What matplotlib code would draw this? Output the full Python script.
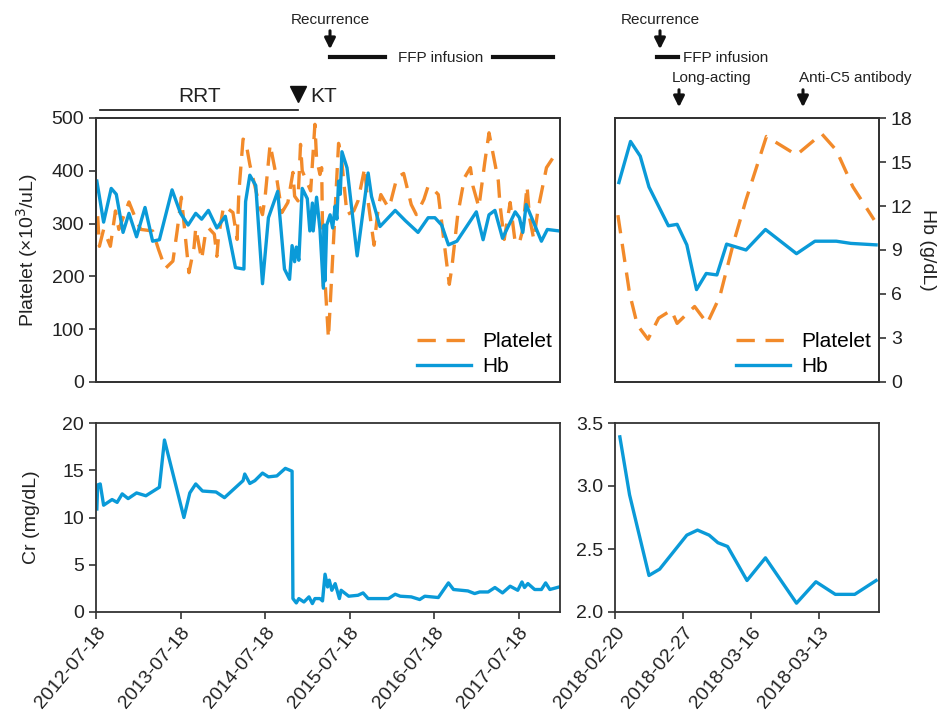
import matplotlib
matplotlib.use('Agg')
import matplotlib.pyplot as plt
from matplotlib.lines import Line2D

plt.rcParams['font.family'] = ['Liberation Sans', 'DejaVu Sans']

# ---------------- data ----------------
# Long-term panel: x = years since 2012-07-18
long_ticks = [0, 1, 2, 3, 4, 5]
long_tick_labels = ['2012-07-18', '2013-07-18', '2014-07-18',
                    '2015-07-18', '2016-07-18', '2017-07-18']

hb_long_x = [0.01, 0.09, 0.18, 0.24, 0.32, 0.39, 0.48, 0.58, 0.67, 0.75,
             0.90, 1.00, 1.09, 1.18, 1.25, 1.33, 1.43, 1.53, 1.65, 1.75,
             1.77, 1.82, 1.89, 1.97, 2.04, 2.15, 2.23, 2.29, 2.32, 2.35,
             2.37, 2.40, 2.44, 2.50, 2.53, 2.56, 2.57, 2.61, 2.65, 2.69,
             2.70, 2.71, 2.73, 2.77, 2.80, 2.83, 2.85, 2.87, 2.89, 2.91,
             2.97, 3.09, 3.22, 3.26, 3.36, 3.54, 3.66, 3.81, 3.93, 4.01,
             4.09, 4.17, 4.27, 4.50, 4.58, 4.65, 4.72, 4.81, 4.96, 5.01,
             5.05, 5.09, 5.27, 5.34, 5.48]
hb_long = [13.7, 10.9, 13.2, 12.8, 10.2, 11.5, 9.9, 11.9, 9.6, 9.7,
           13.1, 11.5, 10.7, 11.5, 11.1, 11.7, 10.5, 11.3, 7.8, 7.7,
           12.3, 14.1, 13.4, 6.7, 11.2, 13.0, 7.7, 7.0, 9.3, 8.2,
           9.2, 8.3, 13.2, 12.5, 10.3, 12.2, 10.3, 12.6, 10.4, 6.4,
           10.7, 6.9, 10.7, 11.4, 10.5, 12.0, 11.1, 13.7, 12.8, 15.7,
           14.6, 8.6, 14.25, 12.65, 10.6, 11.7, 11.0, 10.2, 11.2, 11.2,
           10.7, 9.35, 9.6, 11.6, 9.7, 11.4, 11.7, 9.8, 11.6, 11.2,
           10.2, 12.1, 9.6, 10.4, 10.3]

plt_long_x = [0.02, 0.04, 0.09, 0.17, 0.23, 0.27, 0.39, 0.48, 0.53, 0.67,
              0.74, 0.82, 0.91, 0.96, 1.01, 1.10, 1.16, 1.18, 1.25, 1.29,
              1.33, 1.40, 1.43, 1.45, 1.51, 1.57, 1.62, 1.67, 1.69, 1.74,
              1.77, 1.82, 1.94, 1.97, 2.00, 2.06, 2.14, 2.20, 2.27, 2.33,
              2.35, 2.39, 2.42, 2.44, 2.54, 2.59, 2.61, 2.65, 2.67, 2.69,
              2.71, 2.75, 2.79, 2.87, 2.90, 2.97, 3.05, 3.10, 3.18, 3.20,
              3.29, 3.34, 3.37, 3.46, 3.49, 3.56, 3.64, 3.73, 3.79, 3.88,
              3.93, 3.99, 4.05, 4.11, 4.18, 4.21, 4.28, 4.36, 4.43, 4.46,
              4.53, 4.60, 4.65, 4.68, 4.76, 4.78, 4.83, 4.90, 4.96, 5.01,
              5.05, 5.10, 5.13, 5.18, 5.23, 5.33, 5.45]
plt_long = [314, 257, 289, 257, 324, 289, 341, 305, 289, 286,
            251, 215, 229, 286, 350, 207, 255, 292, 232, 276,
            292, 280, 238, 276, 333, 327, 321, 270, 359, 460,
            457, 412, 330, 317, 349, 450, 384, 321, 340, 397,
            352, 343, 450, 400, 362, 488, 422, 393, 406, 181,
            191, 83, 204, 452, 431, 317, 324, 343, 406, 365,
            259, 330, 355, 330, 343, 387, 395, 336, 317, 346,
            371, 365, 355, 276, 185, 216, 317, 387, 406, 371,
            331, 416, 472, 447, 381, 336, 270, 340, 264, 264,
            289, 371, 311, 270, 327, 406, 435]

cr_long_x = [0.01, 0.02, 0.05, 0.09, 0.19, 0.25, 0.31, 0.38, 0.48, 0.59,
             0.75, 0.81, 1.04, 1.11, 1.18, 1.26, 1.42, 1.52, 1.74, 1.76,
             1.82, 1.88, 1.97, 2.04, 2.14, 2.24, 2.32, 2.33, 2.37, 2.40,
             2.46, 2.52, 2.56, 2.59, 2.65, 2.68, 2.71, 2.74, 2.76, 2.79,
             2.83, 2.88, 2.90, 2.99, 3.10, 3.16, 3.22, 3.46, 3.54, 3.60,
             3.73, 3.83, 3.89, 4.05, 4.17, 4.23, 4.40, 4.48, 4.54, 4.64,
             4.72, 4.81, 4.90, 4.99, 5.04, 5.07, 5.11, 5.19, 5.27, 5.32,
             5.37, 5.48]
cr_long = [10.9, 13.45, 13.55, 11.3, 11.9, 11.6, 12.5, 12.0, 12.6, 12.3,
           13.2, 18.2, 10.0, 12.6, 13.55, 12.8, 12.7, 12.1, 13.9, 14.6,
           13.6, 13.9, 14.7, 14.3, 14.4, 15.2, 14.9, 1.42, 0.96, 1.42,
           1.06, 1.6, 0.89, 1.42, 1.42, 1.17, 4.0, 2.65, 3.37, 2.3,
           3.0, 1.42, 2.3, 1.67, 1.77, 2.02, 1.42, 1.42, 1.88, 1.67,
           1.6, 1.32, 1.67, 1.53, 3.08, 2.38, 2.23, 1.95, 2.12, 2.12,
           2.59, 2.02, 2.73, 2.3, 3.18, 2.59, 3.01, 2.38, 2.38, 3.08,
           2.38, 2.65]

# Short-term panel: x = days since 2018-02-20
short_ticks = [0, 7, 14, 21]
short_tick_labels = ['2018-02-20', '2018-02-27', '2018-03-16', '2018-03-13']

hb_short_x = [0.4, 1.6, 2.6, 3.5, 5.5, 6.4, 7.4, 8.4, 9.4, 10.5,
              11.5, 13.5, 15.5, 18.7, 20.6, 22.8, 24.3, 26.9]
hb_short = [13.6, 16.4, 15.4, 13.3, 10.65, 10.75, 9.35, 6.3, 7.4, 7.3,
            9.4, 9.0, 10.4, 8.75, 9.6, 9.6, 9.45, 9.35]

plt_short_x = [0.3, 1.5, 2.3, 3.4, 4.5, 5.8, 6.4, 8.2, 9.5, 10.8,
               12.2, 13.5, 15.6, 18.7, 21.3, 22.8, 24.5, 26.7]
plt_short = [316, 168, 108, 81, 121, 136, 111, 143, 111, 162,
             263, 345, 465, 430, 470, 439, 370, 307]

cr_short_x = [0.5, 1.5, 3.5, 4.6, 7.4, 8.5, 9.7, 10.6, 11.6, 13.6,
              15.5, 18.7, 20.7, 22.7, 24.7, 26.9]
cr_short = [3.39, 2.93, 2.29, 2.34, 2.61, 2.65, 2.61, 2.55, 2.52, 2.25,
            2.43, 2.07, 2.24, 2.14, 2.14, 2.25]

# ---------------- style ----------------
ORANGE = '#F28A2A'
BLUE = '#0A9AD8'
SPINE = '#333333'
TXT = '#222222'
LW = 2.4
DASH = (5.5, 3.2)
ROT = 50

W, H = 946, 717
fig = plt.figure(figsize=(W / 100, H / 100), dpi=100)


def fx(px):
    return px / W


def fy(py):
    return 1 - py / H


xL0, xL1 = 96, 560
xR0, xR1 = 615, 879
yT0, yT1 = 118, 382
yB0, yB1 = 423, 612

axTL = fig.add_axes([fx(xL0), fy(yT1), fx(xL1) - fx(xL0), fy(yT0) - fy(yT1)])
axBL = fig.add_axes([fx(xL0), fy(yB1), fx(xL1) - fx(xL0), fy(yB0) - fy(yB1)])
axTR = fig.add_axes([fx(xR0), fy(yT1), fx(xR1) - fx(xR0), fy(yT0) - fy(yT1)])
axBR = fig.add_axes([fx(xR0), fy(yB1), fx(xR1) - fx(xR0), fy(yB0) - fy(yB1)])

for ax in (axTL, axBL, axTR, axBR):
    for s in ax.spines.values():
        s.set_color(SPINE)
        s.set_linewidth(1.3)
    ax.tick_params(direction='out', length=5, width=1.2, color=SPINE,
                   labelsize=14, labelcolor=TXT)

h1 = [Line2D([], [], color=ORANGE, lw=LW, dashes=DASH),
      Line2D([], [], color=BLUE, lw=LW)]
leg_kw = dict(loc='lower right', frameon=False, fontsize=15,
              handlelength=2.6, labelspacing=0.3, borderaxespad=0.0,
              handletextpad=0.5, bbox_to_anchor=(1.0, -0.01))

# ---- top left ----
axTL.plot(plt_long_x, plt_long, color=ORANGE, lw=LW, dashes=DASH, label='Platelet')
axTL.set_xlim(0, 5.49)
axTL.set_ylim(0, 500)
axTL.set_yticks([0, 100, 200, 300, 400, 500])
axTL.set_xticks([])
axTL.set_ylabel('Platelet (×10$^3$/uL)', fontsize=14, color=TXT, labelpad=8)
twTL = axTL.twinx()
twTL.plot(hb_long_x, hb_long, color=BLUE, lw=LW, label='Hb')
twTL.set_ylim(0, 18)
twTL.set_yticks([])
for s in twTL.spines.values():
    s.set_color(SPINE)
    s.set_linewidth(1.3)
twTL.legend(h1, ['Platelet', 'Hb'], **leg_kw)

# ---- bottom left ----
axBL.plot(cr_long_x, cr_long, color=BLUE, lw=LW)
axBL.set_xlim(0, 5.49)
axBL.set_ylim(0, 20)
axBL.set_yticks([0, 5, 10, 15, 20])
axBL.set_xticks(long_ticks)
axBL.set_xticklabels(long_tick_labels, rotation=ROT, ha='right',
                     rotation_mode='anchor', fontsize=14)
axBL.set_ylabel('Cr (mg/dL)', fontsize=14, color=TXT, labelpad=16)

# ---- top right ----
axTR.plot(plt_short_x, plt_short, color=ORANGE, lw=LW, dashes=DASH)
axTR.set_xlim(0, 27.2)
axTR.set_ylim(0, 500)
axTR.set_yticks([])
axTR.set_xticks([])
twTR = axTR.twinx()
twTR.plot(hb_short_x, hb_short, color=BLUE, lw=LW)
twTR.set_ylim(0, 18)
twTR.set_yticks([0, 3, 6, 9, 12, 15, 18])
twTR.tick_params(direction='out', length=5, width=1.2, color=SPINE,
                 labelsize=14, labelcolor=TXT)
for s in twTR.spines.values():
    s.set_color(SPINE)
    s.set_linewidth(1.3)
twTR.set_ylabel('Hb (g/dL)', fontsize=14, color=TXT, rotation=270, labelpad=17)
twTR.legend(h1, ['Platelet', 'Hb'], **leg_kw)

# ---- bottom right ----
axBR.plot(cr_short_x, cr_short, color=BLUE, lw=LW)
axBR.set_xlim(0, 27.2)
axBR.set_ylim(2.0, 3.5)
axBR.set_yticks([2.0, 2.5, 3.0, 3.5])
axBR.set_yticklabels(['2.0', '2.5', '3.0', '3.5'])
axBR.set_xticks(short_ticks)
axBR.set_xticklabels(short_tick_labels, rotation=ROT, ha='right',
                     rotation_mode='anchor', fontsize=14)

# ---------------- annotations ----------------
ann = dict(fontsize=11, color=TXT, ha='center', va='center')


def arrow(px, py0, py1):
    fig.add_artist(matplotlib.patches.FancyArrowPatch(
        (fx(px), fy(py0)), (fx(px), fy(py1)), transform=fig.transFigure,
        arrowstyle='-|>', mutation_scale=16, lw=2.2, color='#111111'))


def hline(px0, px1, py, lw=3):
    fig.add_artist(Line2D([fx(px0), fx(px1)], [fy(py), fy(py)],
                          transform=fig.transFigure, color='#111111', lw=lw))


# left group
fig.text(fx(330), fy(20), 'Recurrence', **ann)
arrow(330, 28, 52)
hline(330, 385, 57)
fig.text(fx(441), fy(58), 'FFP infusion', **ann)
hline(493, 553, 57)
hline(100, 298, 110, lw=1.2)
fig.text(fx(200), fy(97), 'RRT', fontsize=15, color=TXT, ha='center', va='center')
fig.add_artist(Line2D([fx(298)], [fy(94)], marker='v', markersize=12,
                      color='#111111', transform=fig.transFigure))
fig.text(fx(310), fy(96), 'KT', fontsize=15, color=TXT, ha='left', va='center')

# right group
fig.text(fx(660), fy(20), 'Recurrence', **ann)
arrow(660, 28, 52)
hline(657, 678, 57)
fig.text(fx(683), fy(58), 'FFP infusion', fontsize=11, color=TXT, ha='left', va='center')
fig.text(fx(712), fy(78), 'Long-acting', **ann)
arrow(679, 87, 110)
fig.text(fx(855), fy(78), 'Anti-C5 antibody', **ann)
arrow(803, 87, 110)

fig.savefig('out.png', dpi=100)
